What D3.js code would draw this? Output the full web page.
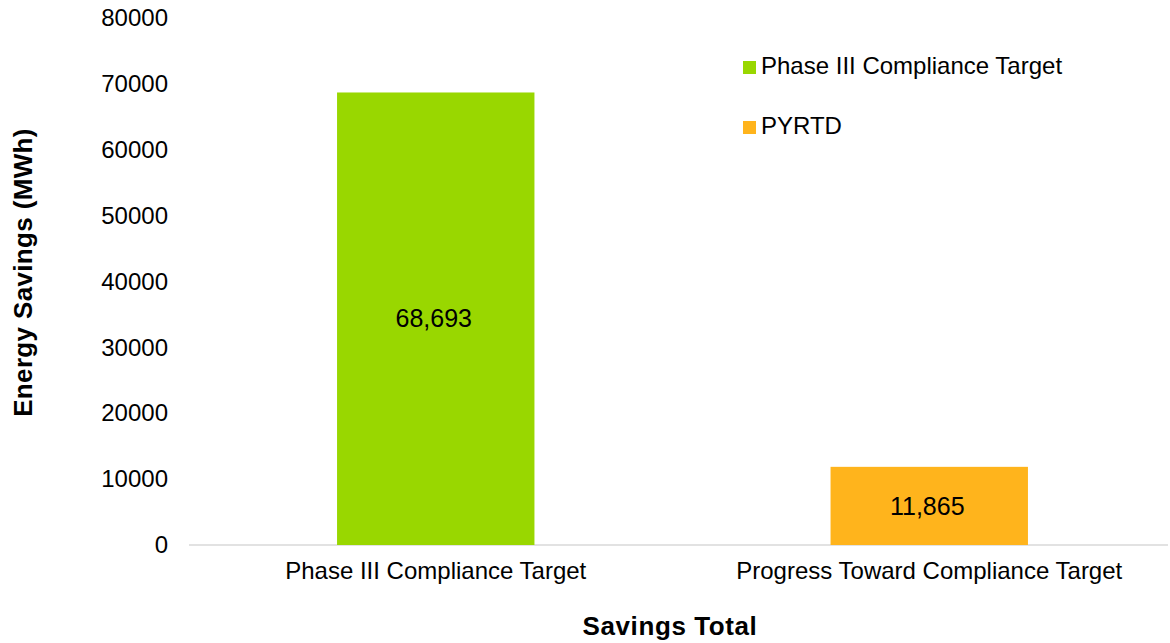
<!DOCTYPE html>
<html><head><meta charset="utf-8">
<script src="https://cdn.jsdelivr.net/npm/d3@7"></script>
<style>body{margin:0;background:#fff}svg{display:block;font-family:"Liberation Sans",Arial,sans-serif}</style>
</head><body><svg id="c" width="1170" height="643"></svg>
<script>
const categories = ["Phase III Compliance Target", "Progress Toward Compliance Target"];
const seriesNames = ["Phase III Compliance Target", "PYRTD"];
const values = [68693, 11865];
const valueLabels = ["68,693", "11,865"];
const colors = ["#99D700", "#FFB41C"];
const yTicks = [0, 10000, 20000, 30000, 40000, 50000, 60000, 70000, 80000];

const svg = d3.select("#c");
const x = d3.scaleBand().domain(categories).range([189, 1176]).padding(0.6);
x.paddingOuter(0.3);
const y = d3.scaleLinear().domain([0, 80000]).range([545, 18]);

// baseline
svg.append("line").attr("x1", 189).attr("x2", 1168).attr("y1", y(0)).attr("y2", y(0))
  .attr("stroke", "#d9d9d9").attr("stroke-width", 1.5);

// y ticks
const yAxis = d3.axisLeft(y).tickValues(yTicks).tickSize(0).tickPadding(0).tickFormat(d => String(d));
const gy = svg.append("g").attr("transform", "translate(168,0)").call(yAxis);
gy.select(".domain").remove();
gy.selectAll("text").attr("font-size", 24).attr("fill", "#000").attr("font-family", "Liberation Sans, Arial, sans-serif");

// x labels
const xAxis = d3.axisBottom(x).tickSize(0).tickPadding(0);
const gx = svg.append("g").attr("transform", "translate(0,562)").call(xAxis);
gx.select(".domain").remove();
gx.selectAll("text").attr("font-size", 24).attr("fill", "#000").attr("font-family", "Liberation Sans, Arial, sans-serif");

// bars
svg.selectAll("rect.bar").data(values).join("rect").attr("class", "bar")
  .attr("x", (d, i) => x(categories[i])).attr("width", x.bandwidth())
  .attr("y", d => y(d)).attr("height", d => y(0) - y(d))
  .attr("fill", (d, i) => colors[i]);

// value labels
svg.selectAll("text.val").data(values).join("text").attr("class", "val")
  .attr("x", (d, i) => x(categories[i]) + x.bandwidth() / 2 - 2)
  .attr("y", d => (y(d) + y(0)) / 2)
  .attr("dy", "0.35em").attr("text-anchor", "middle").attr("font-size", 25)
  .text((d, i) => valueLabels[i]);

// axis titles
svg.append("text").attr("transform", "translate(32,272.5) rotate(-90)").attr("text-anchor", "middle")
  .attr("font-size", 26).attr("font-weight", "bold").attr("letter-spacing", 0.35).text("Energy Savings (MWh)");
svg.append("text").attr("x", 670).attr("y", 635).attr("text-anchor", "middle")
  .attr("font-size", 26).attr("font-weight", "bold").attr("letter-spacing", 0.6).text("Savings Total");

// legend
const lg = svg.append("g").selectAll("g").data(seriesNames).join("g")
  .attr("transform", (d, i) => `translate(743,${61 + i * 60})`);
lg.append("rect").attr("width", 13).attr("height", 13).attr("fill", (d, i) => colors[i]);
lg.append("text").attr("x", 18).attr("y", 12.5).attr("font-size", 24).text(d => d);
</script></body></html>
